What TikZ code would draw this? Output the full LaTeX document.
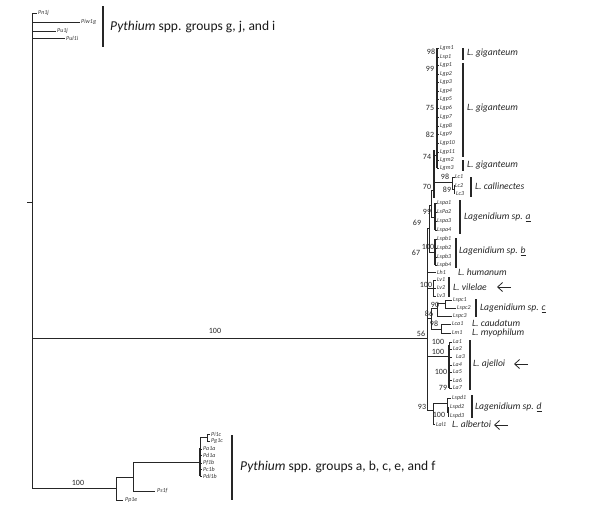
\documentclass[tikz,border=0pt]{standalone}
\usepackage{fontspec}
\setmainfont{Carlito}
\usetikzlibrary{arrows.meta}
\begin{document}
\begin{tikzpicture}[x=1pt,y=-1pt,
  br/.style={line width=0.8pt,draw=black!85},
  thk/.style={line width=1.5pt,draw=black!85},
  bar/.style={line width=1.6pt,draw=black!85},
  tip/.style={font=\fontsize{6}{7}\selectfont\itshape,inner sep=0pt,anchor=west,text=black!80},
  bs/.style={font=\fontsize{8}{9}\selectfont,inner sep=0pt,text=black!85},
  clade/.style={font=\fontsize{9.6}{11}\selectfont\itshape,inner sep=0pt,anchor=west,text=black!85},
  grp/.style={font=\fontsize{13.5}{15}\selectfont,inner sep=0pt,anchor=west,text=black!90},
  arr/.style={line width=0.8pt,draw=black!85,-{Straight Barb[length=5pt,width=9pt]}}]
\useasboundingbox (0,0) rectangle (600,515);

% ---------- tip labels ----------
\foreach \n/\x/\y in {Pn1j/38/13, Piw1g/81/22, Pu1j/57/31, Pul1i/66/38,
  Lgm1/440/48, Lsp1/440/57, Lgp1/440/65, Lgp2/440/74, Lgp3/440/82, Lgp4/440/91,
  Lgp5/440/99, Lgp6/440/108, Lgp7/440/117, Lgp8/440/126, Lgp9/440/134,
  Lgp10/440/143, Lgp11/440/152, Lgm2/440/160, Lgm3/440/168,
  Lc1/455/177, Lc2/455/186, Lc3/456/194,
  Lspa1/437/203, LsPa2/437/212, Lspa3/437/221, Lspa4/437/230,
  Lspb1/437/239, Lspb2/437/248, Lspb3/437/257, Lspb4/437/265,
  Lh1/437/272, Lv1/437/280, Lv2/437/288, Lv3/437/296,
  Lspc1/453/300, Lspc2/457/308, Lspc3/453/316, Lca1/452/324, Lm1/452/333,
  La1/453/342, La2/453/349, La3/456/357, La4/453/365, La5/453/372, La6/453/380, La7/453/388,
  Lspd1/452/398, Lspd2/450/407, Lspd3/450/416, Lal1/436/424,
  Pi1c/211/434, Pg1c/211/441, Pa1a/203/449, Pd1a/203/455, Pf1b/203/463,
  Pc1b/203/469, Pdi1b/203/476, Ps1f/157/491, Pp1e/125/500}
  \node[tip] (t\n) at (\x,\y) {\n};

% ---------- Pythium g, j, i ----------
\draw[br] (27,202) -- (32,202);
\draw[br] (32,13) -- (32,488);
\draw[br] (32,13) -- (37,13);
\draw[br] (32,22) -- (80,22);
\draw[br] (32,31) -- (56,31);
\draw[br] (32,38) -- (65,38);
\draw[bar] (103,6) -- (103,47);
\node[grp] (gji) at (110,27) {\textit{Pythium} spp. groups g, j, and i};

% ---------- long branch to Lagenidium ----------
\draw[br] (32,338) -- (427,338);
\node[bs] (b100m) at (215,331) {100};

% ---------- bottom Pythium ----------
\draw[br] (32,488) -- (116,488);
\node[bs] (b100p) at (78,483) {100};
\draw[br] (116,477) -- (116,500);
\draw[br] (116,500) -- (123,500);
\draw[br] (116,477) -- (133,477);
\draw[br] (133,462) -- (133,491);
\draw[br] (133,491) -- (155,491);
\draw[br] (133,462) -- (200,462);
\draw[br] (200,437) -- (200,476);
\draw[thk] (200,448) -- (200,476);
\draw[br] (200,437) -- (207,437);
\draw[br] (207,434) -- (207,441);
\draw[br] (207,434) -- (210,434);
\draw[br] (207,441) -- (210,441);
\foreach \y in {449,455,463,469,476} \draw[br] (200,\y) -- (202,\y);
\draw[bar] (232,435) -- (232,500);
\node[grp] (gabc) at (240,467) {\textit{Pythium} spp. groups a, b, c, e, and f};

% ---------- Lagenidium clade ----------
% giganteum
\draw[thk] (437,48) -- (437,168);
\foreach \y in {48,57,65,74,82,91,99,108,117,126,134,143,152,160,168} \draw[br] (437,\y) -- (439,\y);
\draw[thk] (434,150) -- (434,198);
\draw[br] (434,155) -- (437,155);
% callinectes
\draw[br] (434,182) -- (452,182);
\draw[br] (452,177) -- (452,189);
\draw[br] (452,177) -- (455,177);
\draw[br] (452,189) -- (454,189);
\draw[br] (454,185) -- (454,193);
\draw[br] (454,185) -- (455,185);
\draw[br] (454,193) -- (455,193);
% node 69
\draw[br] (431,190) -- (431,217);
\draw[br] (431,190) -- (434,190);
\draw[br] (431,217) -- (435,217);
% Lspa
\draw[thk] (435,203) -- (435,230);
\foreach \y in {203,212,221,230} \draw[br] (435,\y) -- (437,\y);
% node 67
\draw[br] (429,205) -- (429,252);
\draw[br] (429,205) -- (431,205);
\draw[br] (429,252) -- (435,252);
% Lspb
\draw[thk] (435,239) -- (435,265);
\foreach \y in {239,248,257,265} \draw[br] (435,\y) -- (437,\y);
% node 56
\draw[br] (427,228) -- (427,410);
\draw[br] (427,228) -- (429,228);
% Lh1
\draw[br] (427,272) -- (436,272);
% Lv
\draw[br] (427,288) -- (433,288);
\draw[br] (433,280) -- (433,296);
\foreach \y in {280,288,296} \draw[br] (433,\y) -- (436,\y);
% node 86
\draw[br] (427,318) -- (431,318);
\draw[br] (431,308) -- (431,329);
\draw[br] (431,308) -- (437,308);
\draw[br] (437,303) -- (437,316);
\draw[br] (437,303) -- (445,303);
\draw[br] (445,300) -- (445,308);
\draw[br] (445,300) -- (452,300);
\draw[br] (445,308) -- (456,308);
\draw[br] (437,316) -- (452,316);
\draw[br] (431,329) -- (441,329);
\draw[br] (441,324) -- (441,333);
\draw[br] (441,324) -- (451,324);
\draw[br] (441,333) -- (451,333);
% ajelloi
\draw[br] (427,356) -- (449,356);
\draw[thk] (449,345) -- (449,388);
\draw[br] (449,342) -- (449,349);
\foreach \y in {342,349,357,365,372,380,388} \draw[br] (449,\y) -- (452,\y);
% node 93
\draw[br] (427,410) -- (433,410);
\draw[br] (433,403) -- (433,424);
\draw[br] (433,424) -- (435,424);
\draw[br] (433,403) -- (447,403);
\draw[br] (447,398) -- (447,412);
\draw[br] (447,398) -- (451,398);
\draw[br] (447,412) -- (448,412);
\draw[br] (448,407) -- (448,416);
\draw[br] (448,407) -- (449,407);
\draw[br] (448,416) -- (449,416);

% ---------- bootstrap values ----------
\foreach \t/\x/\y [count=\i] in {98/431/52, 99/430/69, 75/430/108, 82/430/135, 74/427/157,
  98/445/177, 89/447/190, 70/427/187, 99/427/212, 69/417/223, 100/428/247, 67/416/253,
  100/426/285, 90/435/305, 86/429/314, 98/434/324, 56/421/334,
  100/438/342, 100/438/352, 100/441/372, 79/443/388, 93/422/407, 100/439/415}
  \node[bs] (bs\i) at (\x,\y) {\t};

% ---------- clade bars and names ----------
\draw[bar] (463,48) -- (463,60);
\node[clade] (c1) at (467,53) {L. giganteum};
\draw[bar] (463,63) -- (463,157);
\node[clade] (c2) at (467,108) {L. giganteum};
\draw[bar] (463,160) -- (463,171);
\node[clade] (c3) at (467,165) {L. giganteum};
\draw[bar] (471,177) -- (471,197);
\node[clade] (c4) at (475,186) {L. callinectes};
\draw[bar] (460,200) -- (460,234);
\node[clade] (c5) at (464,217) {Lagenidium sp. \underline{a}};
\draw[bar] (456,238) -- (456,268);
\node[clade] (c6) at (459,251) {Lagenidium sp. \underline{b}};
\node[clade] (c7) at (458,272) {L. humanum};
\draw[bar] (449,277) -- (449,297);
\node[clade] (c8) at (453,287) {L. vilelae};
\draw[bar] (476,299) -- (476,317);
\node[clade] (c9) at (480,308) {Lagenidium sp. \underline{c}};
\node[clade] (c10) at (472,323) {L. caudatum};
\node[clade] (c11) at (472,333) {L. myophilum};
\draw[bar] (470,340) -- (470,390);
\node[clade] (c12) at (473,364) {L. ajelloi};
\draw[bar] (472,395) -- (472,418);
\node[clade] (c13) at (475,407) {Lagenidium sp. \underline{d}};
\node[clade] (c14) at (452,424) {L. albertoi};

% ---------- arrows ----------
\coordinate (a1s) at (511,287); \coordinate (a1e) at (497,287);
\coordinate (a2s) at (528,364); \coordinate (a2e) at (514,364);
\coordinate (a3s) at (508,425); \coordinate (a3e) at (494,425);
\draw[arr] (a1s) -- (a1e);
\draw[arr] (a2s) -- (a2e);
\draw[arr] (a3s) -- (a3e);
\end{tikzpicture}
\end{document}
